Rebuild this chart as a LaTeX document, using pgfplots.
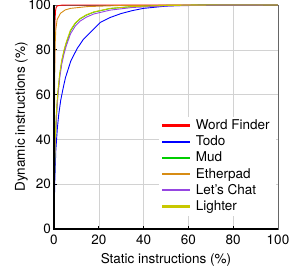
\documentclass[border=0pt]{standalone}
\usepackage{fontspec}
\setmainfont{TeX Gyre Heros}
\usepackage{pgfplots}
\pgfplotsset{compat=1.18}
\definecolor{cRed}{RGB}{255,0,0}
\definecolor{cBlue}{RGB}{0,0,255}
\definecolor{cGreen}{RGB}{0,205,0}
\definecolor{cOrange}{RGB}{215,140,20}
\definecolor{cPurple}{RGB}{150,70,225}
\definecolor{cYellow}{RGB}{200,200,0}
\begin{document}
\begin{tikzpicture}
\begin{axis}[
  scale only axis,
  width=224pt, height=224pt,
  xmin=0, xmax=100, ymin=0, ymax=100,
  xtick={0,20,40,60,80,100}, ytick={0,20,40,60,80,100},
  /pgf/number format/assume math mode=true,
  tick label style={font=\fontsize{13.5}{15}\selectfont},
  label style={font=\fontsize{13.5}{15}\selectfont},
  xticklabel style={yshift=-2.5pt},
  yticklabel style={xshift=0.5pt},
  xlabel={Static instructions (\%)},
  ylabel={Dynamic instructions (\%)},
  xlabel style={at={(axis description cs:0.5,-0.136)}, anchor=center},
  ylabel style={at={(axis description cs:-0.145,0.5)}, anchor=center},
  grid=major,
  grid style={gray!35, line width=0.5pt},
  tick align=inside, tick pos=left,
  major tick length=3pt,
  tick style={black, line width=0.8pt},
  axis line style={gray!80!black, line width=0.6pt},
  clip=false,
  legend cell align=left,
  legend style={at={(rel axis cs:0.47,0.502)}, anchor=north west, draw=white, fill=white,
    font=\fontsize{13.5}{16}\selectfont, inner xsep=3pt, inner ysep=1pt, row sep=0.8pt},
  legend image code/.code={\fill[#1] (0pt,-0.6pt) rectangle (27pt,0.6pt); \draw[#1, line width=0.4pt] (0pt,0pt) -- (27pt,0pt); \path (30.5pt,0pt);},
  every axis plot/.append style={line width=0.9pt, no markers},
]
\addplot[color=cRed] coordinates {(0,0) (0.1,40) (0.25,75) (0.45,93) (0.7,97.5) (1,99) (1.5,99.6) (3,99.9) (6,100) (100,100)};
\addlegendentry{Word Finder}
\addplot[color=cBlue] coordinates {(0,0) (0.3,20) (0.8,35) (1.5,45) (2.1,51) (3,57.5) (4,62.5) (5.1,67.5) (7.5,75) (10.3,80.5) (13,84.5) (17,88.5) (20.8,92.3) (25,94.4) (30,96.2) (35,97.5) (40,98.5) (50,99.5) (60,99.9) (100,100)};
\addlegendentry{Todo}
\addplot[color=cGreen] coordinates {(0,0) (0.2,22) (0.5,37) (1.1,51) (1.7,60) (2.6,69) (3.5,75) (4.5,79.5) (5.5,83) (7.4,88.5) (9.5,91.8) (11.8,93.9) (14.5,95.5) (17.8,96.8) (25,98.4) (35,99.3) (50,99.8) (70,100) (100,100)};
\addlegendentry{Mud}
\addplot[color=cOrange] coordinates {(0,0) (0.15,35) (0.3,65) (0.5,82) (0.8,89) (1.4,93.5) (2.9,96.3) (5,97.8) (7.4,98.5) (15,99.3) (30,99.8) (60,100) (100,100)};
\addlegendentry{Etherpad}
\addplot[color=cPurple] coordinates {(0,0) (0.2,21) (0.5,36) (1.1,50) (1.7,59) (2.6,67.8) (3.5,73.8) (4.5,78.3) (5.5,81.8) (7.4,87.2) (9.5,90.6) (11.8,92.9) (14.5,94.6) (17.8,96) (25,97.7) (35,98.9) (50,99.6) (70,99.9) (100,100)};
\addlegendentry{Let's Chat}
\addplot[color=cYellow] coordinates {(0,0) (0.2,24) (0.5,39) (1.0,51) (1.6,60) (2.5,69) (3.4,75) (4.4,79.6) (5.4,83.2) (7.3,88.7) (9.4,91.9) (11.7,94) (14.4,95.6) (17.7,96.9) (25,98.5) (35,99.3) (50,99.8) (70,100) (100,100)};
\addlegendentry{Lighter}
\draw[black, line width=1.1pt] (rel axis cs:0,1) -- (rel axis cs:0,0) -- (rel axis cs:1,0);
\coordinate (ll) at (rel axis cs:0,0);
\coordinate (ur) at (rel axis cs:1,1);
\end{axis}
\pgfresetboundingbox
\path[use as bounding box] ([xshift=-54pt,yshift=-42pt]ll) rectangle ([xshift=17pt,yshift=5pt]ur);
\end{tikzpicture}
\end{document}
